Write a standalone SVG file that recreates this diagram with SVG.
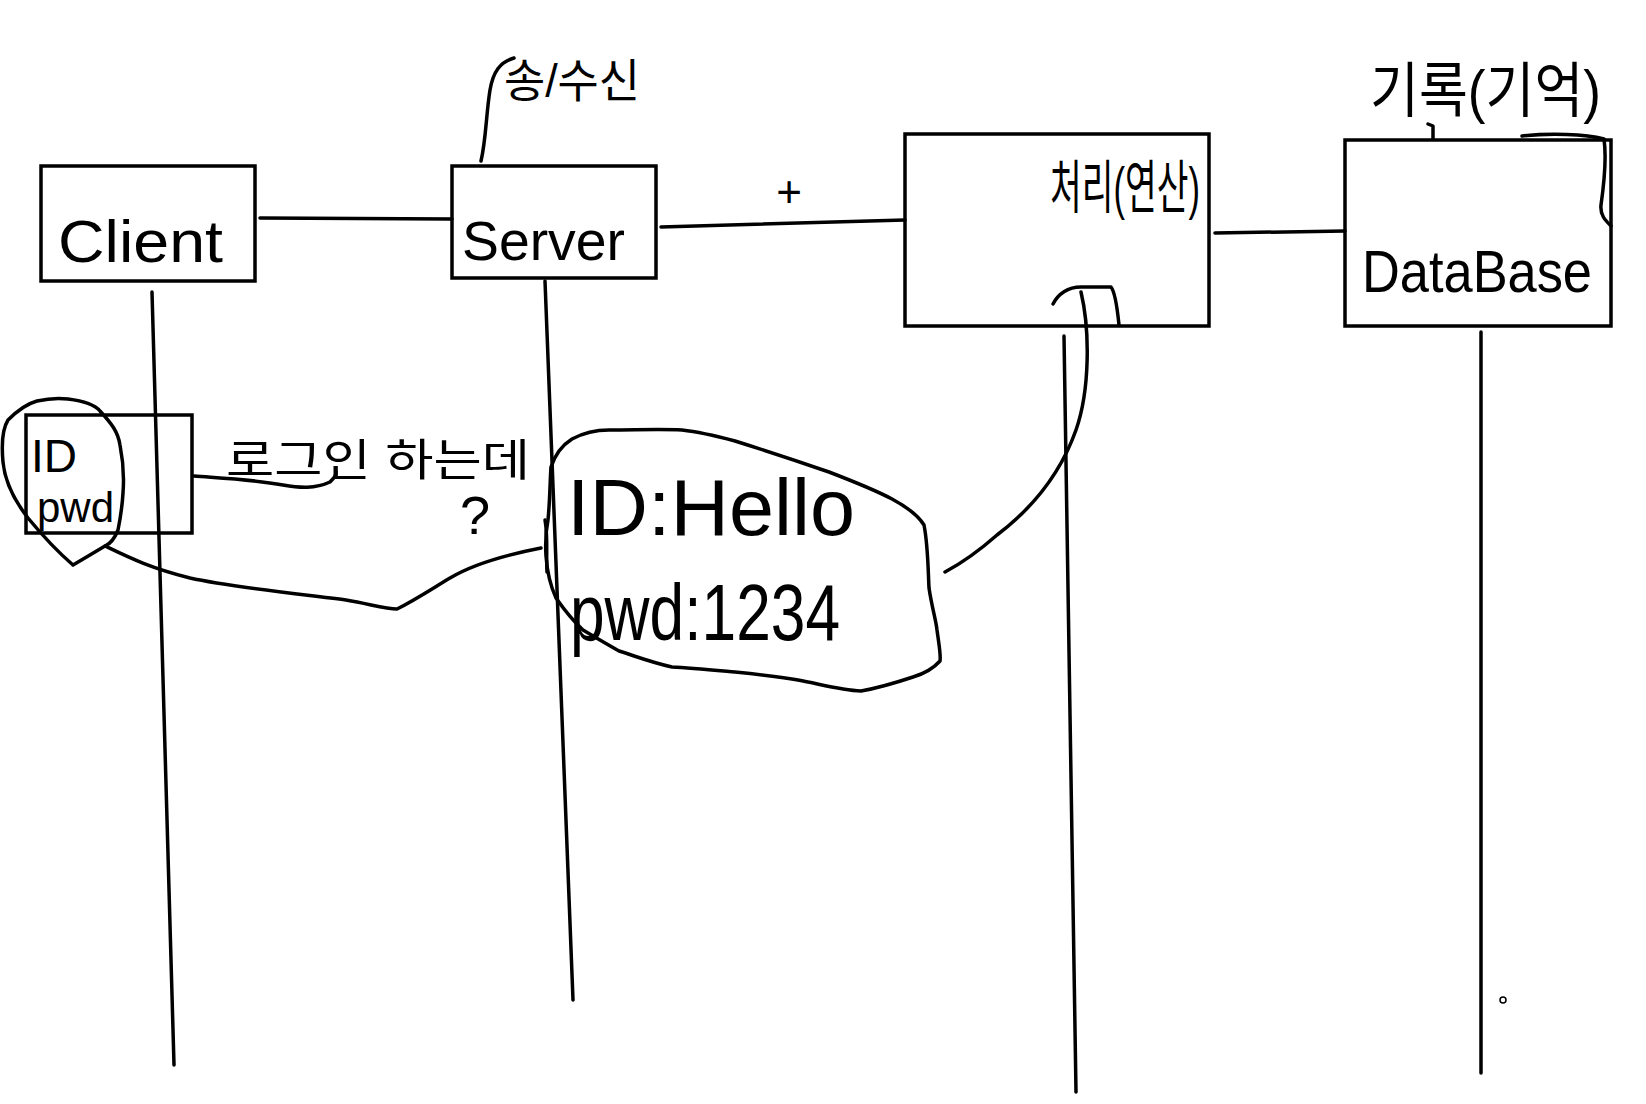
<svg xmlns="http://www.w3.org/2000/svg" width="1646" height="1104" viewBox="0 0 1646 1104">
<style>
.box{fill:none;stroke:#000;stroke-width:3.5}
.ln{fill:none;stroke:#000;stroke-width:3.5;stroke-linecap:round;stroke-linejoin:round}
.t{font-family:"Liberation Sans","Noto Sans CJK KR",sans-serif;fill:#000}
</style>
<rect width="1646" height="1104" fill="#fff"/>
<g id="connectors">
<line class="ln" x1="260" y1="218" x2="452" y2="219"/>
<line class="ln" x1="661" y1="227" x2="905" y2="220"/>
<line class="ln" x1="1215" y1="233" x2="1345" y2="231"/>
<line class="ln" x1="152" y1="292" x2="174" y2="1065"/>
<line class="ln" x1="545" y1="281" x2="573" y2="1000"/>
<line class="ln" x1="1064" y1="336" x2="1076" y2="1092"/>
<line class="ln" x1="1481" y1="332" x2="1481" y2="1073"/>
<path class="ln" d="M481,161 C486,140 486,115 490,90 C493,72 500,62 514,58"/>
<path class="ln" d="M1428,124 L1433,126 L1433,139"/>
<path class="ln" d="M1522,136 C1550,133 1585,134 1604,139 C1607,160 1604,184 1601,205 C1600,215 1605,220 1611,226"/>
<path class="ln" d="M1053,304 C1058,294 1068,287 1081,287 L1111,287 C1115,292 1117,305 1119,325"/>
<path class="ln" d="M1081,292 C1090,330 1090,390 1076,430 C1060,475 1030,510 997,535 C980,550 960,564 945,572"/>
<path class="ln" d="M194,476 C220,478 250,479 283,485 C300,488 315,489 330,482 C334,478 336,476 336,472"/>
<path class="ln" d="M105,546 C130,558 150,568 190,578 C230,587 300,594 346,600 C370,604 385,609 397,609 C415,600 430,590 450,578 C470,566 500,556 541,548"/>
<path class="ln" d="M545,520 C548,535 546,555 547,572"/>
<path class="ln" d="M73,565 C58,552 42,535 28,518 C14,500 5,483 3,462 C1,440 3,428 8,420 C18,410 26,404 37,401 C50,398 60,398 68,399 C84,401 95,405 100,411 C112,424 118,432 120,445 C124,465 124,480 123,493 C122,510 120,520 118,530 C114,540 110,544 105,546 C95,552 85,558 73,565"/>
<path class="ln" d="M548,520 C550,500 550,480 551,467 C556,452 564,444 572,439 C585,432 598,430 609,430 C635,430 660,429 682,430 C700,432 720,437 735,441 C770,452 800,462 829,472 C855,482 875,490 892,499 C905,506 918,515 924,525 C928,545 928,568 929,588 C932,608 936,620 937,630 C939,645 941,655 940,661 C932,670 923,674 913,677 C895,683 878,688 861,691 C840,690 820,684 798,680 C775,676 755,674 735,672 C712,670 690,668 672,667 C650,662 635,656 619,651 C605,643 593,636 583,630 C572,620 563,608 556,598 C550,585 547,570 546,556 C545,540 546,530 548,520"/>
</g>
<g id="client">
<rect class="box" x="41" y="166" width="214" height="115"/>
<text class="t" x="58" y="262" font-size="60" textLength="165" lengthAdjust="spacingAndGlyphs">Client</text>
</g>
<g id="server">
<rect class="box" x="452" y="166" width="204" height="112"/>
<text class="t" x="462" y="260" font-size="56" textLength="163" lengthAdjust="spacingAndGlyphs">Server</text>
</g>
<g id="send-receive">
<text class="t" x="504" y="97" font-size="46" textLength="136" lengthAdjust="spacingAndGlyphs">송/수신</text>
</g>
<g id="processing">
<rect class="box" x="905" y="134" width="304" height="192"/>
<text class="t" x="1050" y="208" font-size="58" textLength="150" lengthAdjust="spacingAndGlyphs">처리(연산)</text>
</g>
<g id="database">
<rect class="box" x="1345" y="140" width="266" height="186"/>
<text class="t" x="1362" y="292" font-size="60" textLength="230" lengthAdjust="spacingAndGlyphs">DataBase</text>
</g>
<g id="record">
<text class="t" x="1370" y="112" font-size="60" textLength="231" lengthAdjust="spacingAndGlyphs">기록(기억)</text>
</g>
<g id="plus">
<text class="t" x="789" y="207" font-size="44" text-anchor="middle">+</text>
</g>
<g id="id-pwd">
<rect class="box" x="26" y="415" width="166" height="118"/>
<text class="t" x="31" y="472" font-size="46">ID</text>
<text class="t" x="37" y="522" font-size="42">pwd</text>
</g>
<g id="login-note">
<text class="t" x="226" y="476" font-size="44" textLength="304" lengthAdjust="spacingAndGlyphs">로그인 하는데</text>
<text class="t" x="460" y="534" font-size="54">?</text>
</g>
<g id="credentials">
<text class="t" x="567" y="535" font-size="80" textLength="288" lengthAdjust="spacingAndGlyphs">ID:Hello</text>
<text class="t" x="570" y="640" font-size="80" textLength="270" lengthAdjust="spacingAndGlyphs">pwd:1234</text>
</g>
<g id="dot">
<circle cx="1503" cy="1000" r="3" fill="none" stroke="#000" stroke-width="1.5"/>
</g>
</svg>
